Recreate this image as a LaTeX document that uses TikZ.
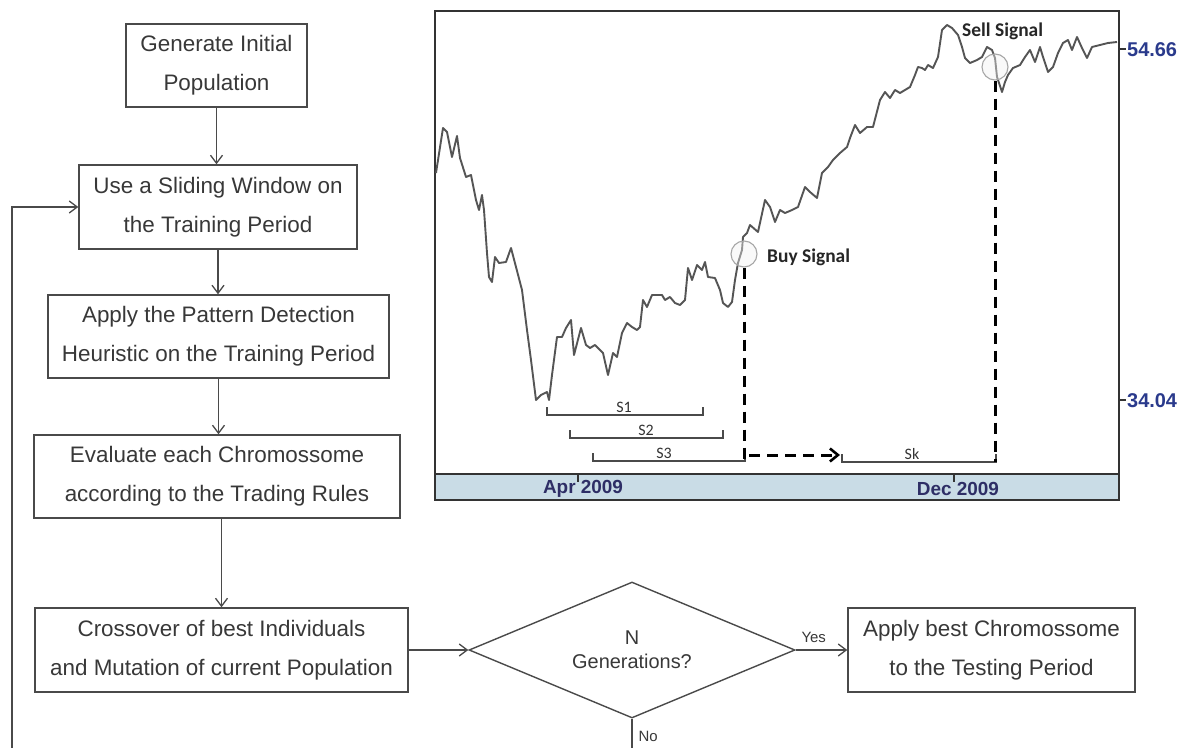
\documentclass[tikz,border=0pt]{standalone}
\usepackage{fontspec}
\setmainfont{Liberation Sans}
\newfontfamily\calib{Carlito}
\usetikzlibrary{arrows.meta,shapes.geometric,calc,shadows}
\definecolor{boxline}{HTML}{4A4A4A}
\definecolor{flowtext}{HTML}{383838}
\definecolor{priceline}{HTML}{555555}
\definecolor{bandblue}{HTML}{C9DCE6}
\definecolor{axisblue}{HTML}{2A3A8C}
\definecolor{datecol}{HTML}{2E2E66}
\tikzset{
  flowbox/.style={draw=boxline, line width=1.4bp, fill=white, text=flowtext, inner sep=0pt, align=center, font=\fontsize{22.5}{39}\selectfont,
    drop shadow={shadow xshift=1.3bp, shadow yshift=-1.3bp, fill=gray!70, opacity=1}},
  flowarrow/.style={draw=boxline, line width=1.3bp, -{Straight Barb[length=8bp,width=12bp,line width=1.3bp]}},
  decision/.style={diamond, draw=boxline, line width=1.4bp, text=flowtext, inner sep=0pt, align=center, font=\fontsize{20}{24}\selectfont},
  smalllabel/.style={text=flowtext, font=\fontsize{15}{15}\selectfont, inner sep=0pt},
  bracket/.style={draw=boxline, line width=1.3bp},
  seglabel/.style={font=\calib\fontsize{16}{16}\selectfont, text=black!80, inner sep=0pt},
  signal/.style={font=\calib\bfseries\fontsize{19.5}{19.5}\selectfont, text=black!85, inner sep=0pt, anchor=west},
  sigcircle/.style={draw=gray!70, line width=1.1bp, fill=gray!10, fill opacity=0.4},
  thickdash/.style={draw=black, line width=3bp, dash pattern=on 11bp off 7bp},
  axislabel/.style={font=\bfseries\fontsize{20}{20}\selectfont, text=axisblue, inner sep=0pt, anchor=west},
  datelabel/.style={font=\bfseries\fontsize{19}{19}\selectfont, text=datecol, inner sep=0pt}
}
\begin{document}
\begin{tikzpicture}[x=1bp,y=-1bp]
\useasboundingbox (0,0) rectangle (1184,748);
\fill[white] (0,0) rectangle (1184,748);

% ---------------- flowchart ----------------
\node[flowbox, minimum width=181bp, minimum height=83bp] (b1) at (216.5,65.5) {Generate Initial\\Population};
\node[flowbox, minimum width=278bp, minimum height=84bp] (b2) at (218,207) {Use a Sliding Window on\\the Training Period};
\node[flowbox, minimum width=341bp, minimum height=83bp] (b3) at (218.5,336.5) {Apply the Pattern Detection\\Heuristic on the Training Period};
\node[flowbox, minimum width=366bp, minimum height=83bp] (b4) at (217,476.5) {Evaluate each Chromossome\\according to the Trading Rules};
\node[flowbox, minimum width=373bp, minimum height=84bp] (b5) at (221.5,650) {Crossover of best Individuals\\and Mutation of current Population};
\node[decision, minimum width=326bp, minimum height=136bp, aspect=2.397] (d) at (632,650) {N\\Generations?};
\node[flowbox, minimum width=287bp, minimum height=84bp] (b6) at (991.5,650) {Apply best Chromossome\\to the Testing Period};

\coordinate (nobot) at (632,748);
\coordinate (loopbot) at (12,748);

\draw[flowarrow] (b1.south) -- (b1.south |- b2.north);
\draw[flowarrow] (b2.south) -- (b2.south |- b3.north);
\draw[flowarrow] (b3.south) -- (b3.south |- b4.north);
\draw[flowarrow] (b4.south -| b5.north) -- (b5.north);
\draw[flowarrow] (b5.east) -- (d.west);
\draw[flowarrow] (d.east) -- node[smalllabel, above=7bp, pos=0.35] (yes) {Yes} (b6.west);
\draw[draw=boxline, line width=1.3bp] (d.south) -- node[smalllabel, right=6bp, pos=0.6] (no) {No} (nobot);
\draw[flowarrow] (loopbot) |- (b2.west);

% ---------------- chart ----------------
\fill[bandblue] (436,474) rectangle (1118,499);
\draw[black!80, line width=1.6bp] (435,474) -- (1119,474);
\draw[black!80, line width=2bp] (435,11) rectangle (1119,500);

% axis ticks and labels
\draw[black!80, line width=1.6bp] (1119,49) -- (1126,49);
\node[axislabel] (ax1) at (1127,50) {54.66};
\draw[black!80, line width=1.6bp] (1119,400) -- (1126,400);
\node[axislabel] (ax2) at (1127,401) {34.04};
\draw[black!80, line width=1.4bp] (578,474) -- (578,482);
\node[datelabel] (apr) at (583,489) {Apr 2009};
\draw[black!80, line width=1.4bp] (954,474) -- (954,482);
\node[datelabel] (dec) at (958,489) {Dec 2009};

% price series
\draw[priceline, line width=1.9bp, line join=round] (436,173) -- (443,128) -- (447,132) -- (452,157) -- (457,136) -- (460,158) -- (466,177) -- (471,175) -- (476,200) -- (479,210) -- (482,195) -- (484,210) -- (487,253) -- (489,277) -- (492,282) -- (495,257) -- (499,263) -- (506,262) -- (511,248) -- (516,267) -- (522,290) -- (527,330) -- (531,360) -- (536,400) -- (541,395) -- (547,392) -- (549,400) -- (552,375) -- (557,337) -- (562,337) -- (566,328) -- (571,320) -- (574,355) -- (581,328) -- (586,345) -- (590,348) -- (595,345) -- (603,353) -- (608,375) -- (613,353) -- (617,357) -- (622,333) -- (627,323) -- (632,327) -- (637,330) -- (640,327) -- (643,300) -- (647,307) -- (652,295) -- (657,295) -- (662,295) -- (665,300) -- (670,297) -- (675,303) -- (680,305) -- (685,300) -- (688,268) -- (692,280) -- (697,265) -- (702,270) -- (705,262) -- (708,277) -- (715,278) -- (720,290) -- (723,303) -- (728,307) -- (732,302) -- (735,280) -- (738,263) -- (742,250) -- (743,237) -- (747,233) -- (750,225) -- (758,232) -- (765,200) -- (770,207) -- (775,222) -- (780,210) -- (785,213) -- (792,210) -- (798,207) -- (805,187) -- (810,192) -- (817,198) -- (822,173) -- (828,167) -- (833,160) -- (840,153) -- (847,147) -- (850,138) -- (855,125) -- (860,133) -- (867,127) -- (873,127) -- (880,100) -- (885,92) -- (890,98) -- (895,90) -- (900,93) -- (905,90) -- (910,87) -- (915,75) -- (918,67) -- (922,68) -- (925,70) -- (928,65) -- (933,68) -- (938,57) -- (942,30) -- (947,25) -- (952,28) -- (958,35) -- (962,47) -- (965,58) -- (970,63) -- (977,60) -- (982,57) -- (987,47) -- (992,50) -- (995,58) -- (997,77) -- (1002,92) -- (1005,82) -- (1008,75) -- (1013,68) -- (1020,65) -- (1025,57) -- (1030,50) -- (1035,62) -- (1040,47) -- (1043,57) -- (1048,72) -- (1053,67) -- (1058,53) -- (1063,43) -- (1068,40) -- (1072,50) -- (1077,37) -- (1082,48) -- (1087,58) -- (1092,47) -- (1100,45) -- (1108,43) -- (1117,42);

% signal circles and labels
\node[sigcircle, circle, minimum size=26bp, inner sep=0pt] (buyc) at (744,254) {};
\node[sigcircle, circle, minimum size=26bp, inner sep=0pt] (sellc) at (995,67) {};
\node[signal] (buy) at (767,257) {Buy Signal};
\node[signal] (sell) at (962,31) {Sell Signal};

% window brackets
\coordinate (s1a) at (547,415); \coordinate (s1b) at (703,415);
\coordinate (s2a) at (570,438); \coordinate (s2b) at (723,438);
\coordinate (s3a) at (593,461); \coordinate (s3b) at (745,461);
\coordinate (ska) at (842,462); \coordinate (skb) at (996,462);
\draw[bracket] ($(s1a)+(0,-8)$) -- (s1a) -- (s1b) -- ++(0,-8);
\draw[bracket] ($(s2a)+(0,-8)$) -- (s2a) -- (s2b) -- ++(0,-8);
\draw[bracket] ($(s3a)+(0,-8)$) -- (s3a) -- (s3b) -- ++(0,-8);
\draw[bracket] ($(ska)+(0,-8)$) -- (ska) -- (skb) -- ++(0,-8);
\node[seglabel] (l1) at (624,407) {S1};
\node[seglabel] (l2) at (646,430) {S2};
\node[seglabel] (l3) at (664,453) {S3};
\node[seglabel] (lk) at (912,454) {Sk};

% dashed signal lines
\draw[thickdash] (buyc.south) -- (buyc.south |- s3b);
\draw[thickdash] (sellc.south) -- (sellc.south |- skb);
\coordinate (dashstart) at (749,455);
\coordinate (dashend) at (840,455);
\draw[thickdash, -{Straight Barb[length=8bp,width=13bp,line width=2.6bp]}] (dashstart) -- (dashend);
\end{tikzpicture}
\end{document}
